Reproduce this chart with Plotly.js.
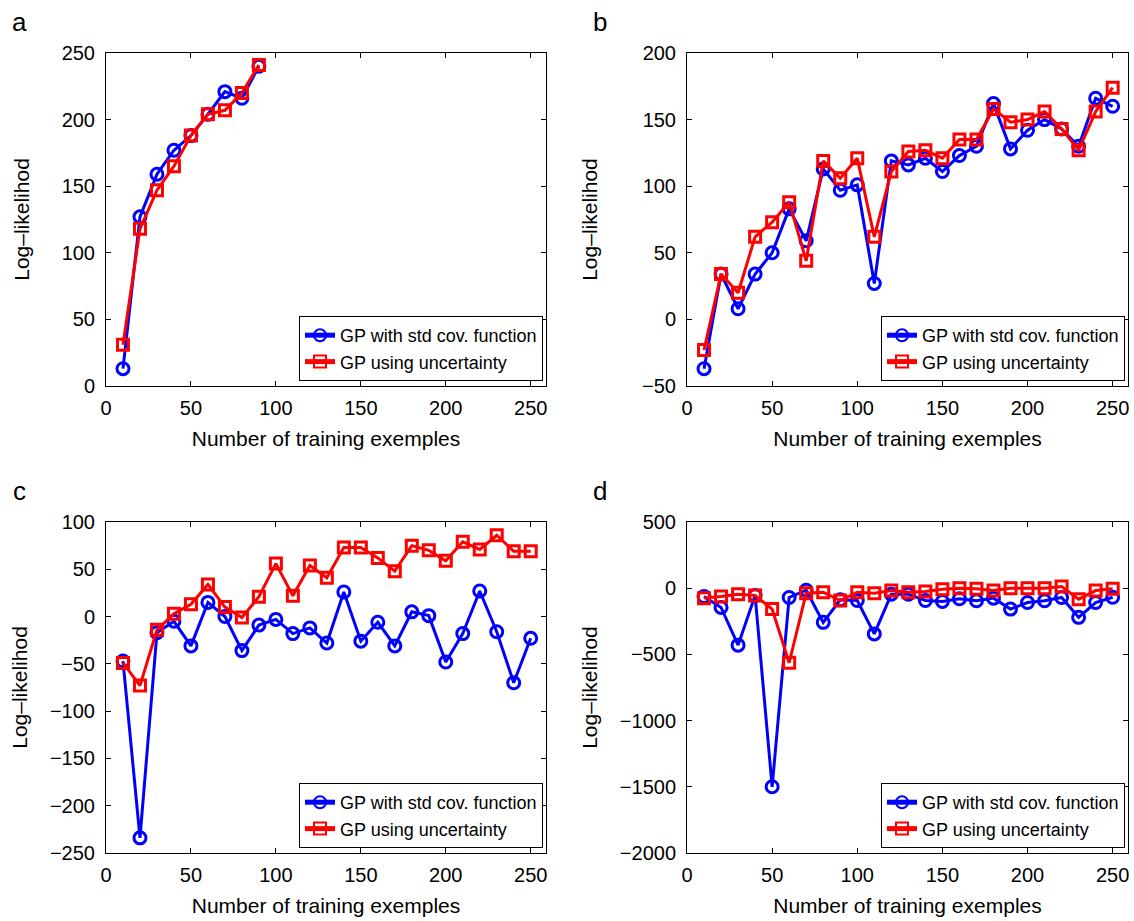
<!DOCTYPE html>
<html>
<head>
<meta charset="utf-8">
<script src="https://cdn.plot.ly/plotly-3.0.1.min.js"></script>
<style>html,body{margin:0;padding:0;background:#fff;}#chart{width:1134px;height:921px;}</style>
</head>
<body>
<div id="chart"></div>
<script>
// ---- data ----
const xA = [10, 20, 30, 40, 50, 60, 70, 80, 90];
const stdA = [13, 127, 159, 177, 188, 204, 221, 216, 240];
const uncA = [31, 118, 147, 165, 188, 204, 207, 220, 241];

const xFull = [10, 20, 30, 40, 50, 60, 70, 80, 90, 100, 110, 120, 130, 140, 150, 160, 170, 180, 190, 200, 210, 220, 230, 240, 250];
const stdB = [-37, 34, 8, 34, 50, 83, 59, 113, 97, 101, 27, 119, 116, 121, 111, 123, 130, 162, 128, 142, 150, 143, 130, 166, 160];
const uncB = [-23, 34, 20, 62, 73, 88, 44, 119, 106, 121, 62, 111, 126, 127, 121, 135, 135, 158, 148, 150, 156, 143, 127, 156, 174];

const stdC = [-47, -234, -17, -5, -31, 15, 0, -36, -9, -3, -18, -12, -28, 26, -26, -6, -31, 5, 1, -48, -18, 27, -16, -70, -23];
const uncC = [-49, -73, -14, 3, 13, 34, 10, -1, 21, 56, 22, 54, 41, 73, 73, 62, 48, 75, 70, 59, 79, 71, 86, 69, 69];

const stdD = [-63, -145, -430, -55, -1500, -70, -15, -258, -88, -93, -345, -45, -45, -93, -100, -80, -95, -75, -158, -108, -95, -70, -220, -108, -68];
const uncD = [-75, -63, -45, -55, -158, -563, -38, -30, -93, -30, -38, -18, -30, -25, -8, 0, -5, -18, 0, 0, 0, 12, -83, -18, -5];

const seriesNames = ['GP with std cov. function', 'GP using uncertainty'];
const panelLetters = ['a', 'b', 'c', 'd'];
const xTitle = 'Number of training exemples';
const yTitle = 'Log\u2013likelihod';

// ---- style ----
const FONT = 'Liberation Sans, Arial, sans-serif';
const W = 1134, H = 921;
const BLUE = '#0000ff', RED = '#ff0000';

function px2x(p) { return p / W; }
function px2y(p) { return 1 - p / H; }

const colsPx = [[106, 546], [687, 1128]];
const rowsPx = [[53, 386], [522, 853]];

const panels = [
  {x: xA, s: stdA, u: uncA, yr: [0, 250], dt: 50, col: 0, row: 0, ys: 26},
  {x: xFull, s: stdB, u: uncB, yr: [-50, 200], dt: 50, col: 1, row: 0, ys: 38},
  {x: xFull, s: stdC, u: uncC, yr: [-250, 100], dt: 50, col: 0, row: 1, ys: 16},
  {x: xFull, s: stdD, u: uncD, yr: [-2000, 500], dt: 500, col: 1, row: 1, ys: 16}
];

const traces = [];
const layout = {
  width: W, height: H,
  margin: {l: 0, r: 0, t: 0, b: 0},
  paper_bgcolor: '#fff', plot_bgcolor: '#fff',
  font: {family: FONT, color: '#000', size: 20},
  showlegend: true,
  annotations: []
};

panels.forEach((p, i) => {
  const n = i + 1;
  const xa = n === 1 ? 'x' : 'x' + n;
  const ya = n === 1 ? 'y' : 'y' + n;
  const lg = n === 1 ? 'legend' : 'legend' + n;
  traces.push({
    x: p.x, y: p.s, xaxis: xa, yaxis: ya, legend: lg,
    name: seriesNames[0], type: 'scatter', mode: 'lines+markers',
    line: {color: BLUE, width: 3},
    marker: {symbol: 'circle-open', size: 12, color: BLUE, line: {width: 3, color: BLUE}}
  });
  traces.push({
    x: p.x, y: p.u, xaxis: xa, yaxis: ya, legend: lg,
    name: seriesNames[1], type: 'scatter', mode: 'lines+markers',
    line: {color: RED, width: 3},
    marker: {symbol: 'square-open', size: 11, color: RED, line: {width: 3, color: RED}}
  });
  const cx = colsPx[p.col], ry = rowsPx[p.row];
  const axCommon = {
    showgrid: false, zeroline: false, showline: true, linecolor: '#000', linewidth: 1,
    mirror: 'ticks', ticks: 'inside', ticklen: 5, tickwidth: 1, tickcolor: '#000',
    tickfont: {family: FONT, size: 20, color: '#000'}
  };
  layout[n === 1 ? 'xaxis' : 'xaxis' + n] = Object.assign({}, axCommon, {
    domain: [px2x(cx[0]), px2x(cx[1])], anchor: ya, range: [0, 259],
    tick0: 0, dtick: 50, ticklabelstandoff: 4,
    title: {text: xTitle, font: {family: FONT, size: 21, color: '#000'}, standoff: 13}
  });
  layout[n === 1 ? 'yaxis' : 'yaxis' + n] = Object.assign({}, axCommon, {
    domain: [px2y(ry[1]), px2y(ry[0])], anchor: xa, range: p.yr,
    tick0: 0, dtick: p.dt, ticklabelstandoff: 6,
    title: {text: yTitle, font: {family: FONT, size: 21, color: '#000'}, standoff: p.ys}
  });
  layout[lg] = {
    x: px2x(cx[1] - 3), y: px2y(ry[1] - 5), xanchor: 'right', yanchor: 'bottom',
    bgcolor: '#fff', bordercolor: '#000', borderwidth: 1,
    font: {family: FONT, size: 18, color: '#000'},
    tracegroupgap: 0, itemsizing: 'constant'
  };
  layout.annotations.push({
    text: panelLetters[i], xref: 'paper', yref: 'paper', showarrow: false,
    x: px2x(cx[0] - 87), y: px2y(ry[0] - 31), xanchor: 'center', yanchor: 'middle',
    font: {family: FONT, size: 26, color: '#000'}
  });
});

Plotly.newPlot('chart', traces, layout, {displayModeBar: false, staticPlot: true});
</script>
</body>
</html>
